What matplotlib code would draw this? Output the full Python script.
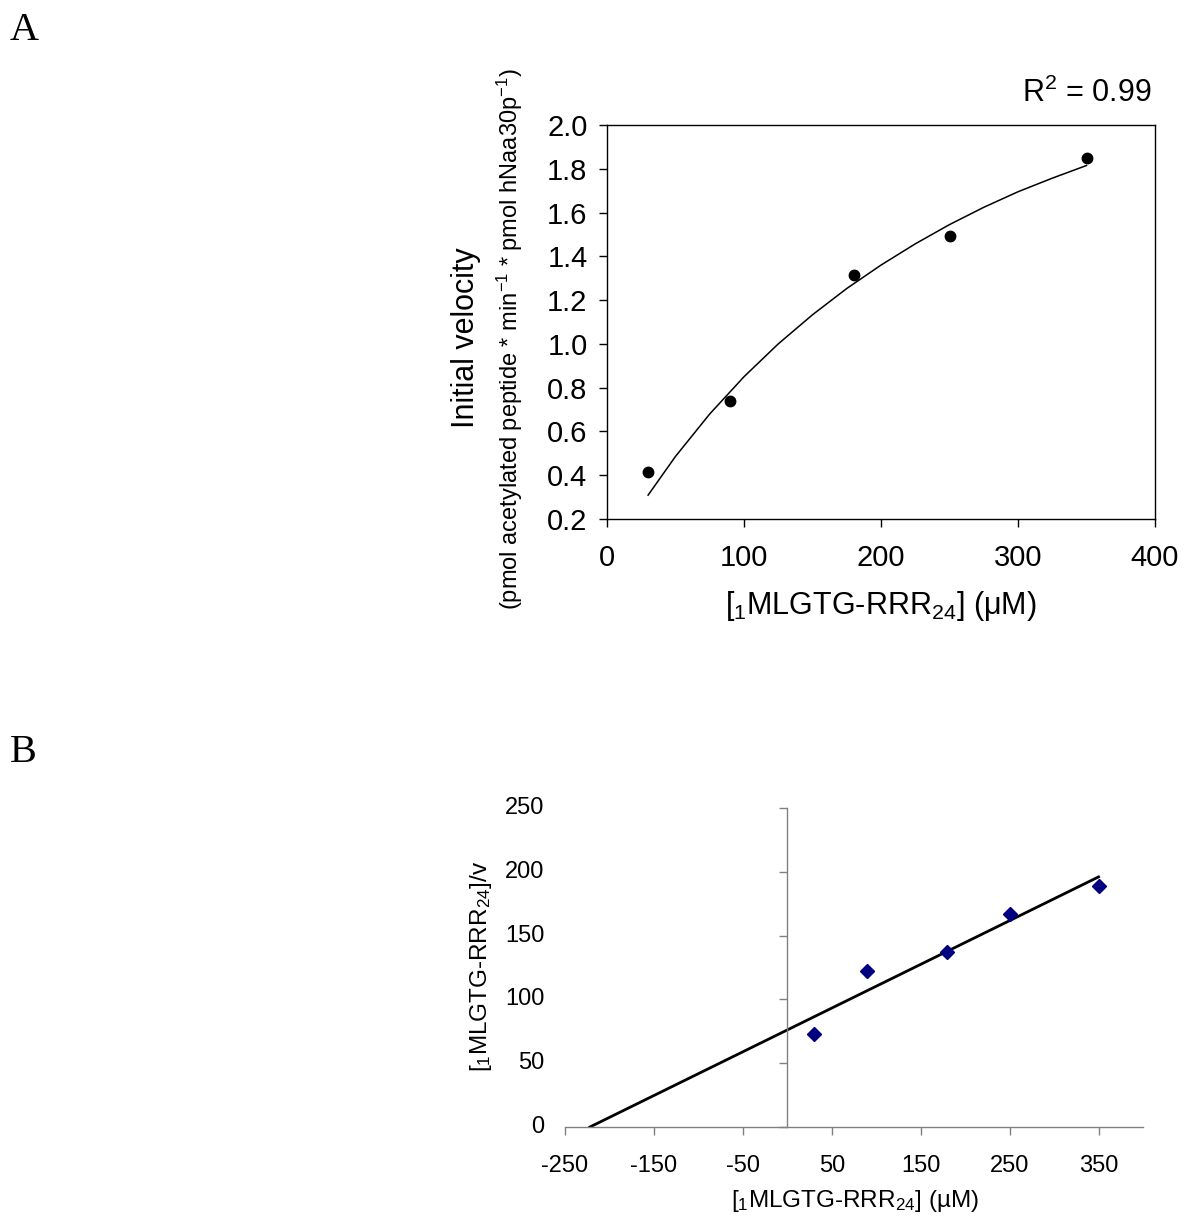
import matplotlib
matplotlib.use("Agg")
import matplotlib.pyplot as plt
import matplotlib.transforms as mtransforms

plt.rcParams['font.family'] = ['Liberation Sans', 'DejaVu Sans']
plt.rcParams['mathtext.fontset'] = 'custom'
plt.rcParams['mathtext.rm'] = 'Liberation Sans'
plt.rcParams['mathtext.it'] = 'Liberation Sans:italic'

# ---- Panel A data ----
conc_a = [30, 90, 180, 250, 350]
vel_a = [0.415, 0.74, 1.315, 1.495, 1.85]
fit_x = [30, 50, 75, 100, 125, 150, 175, 200, 225, 250, 275, 300, 325, 350]
fit_y = [0.309, 0.486, 0.680, 0.850, 1.000, 1.133, 1.253, 1.360, 1.457,
         1.545, 1.624, 1.695, 1.757, 1.815]
a_xticks = [0, 100, 200, 300, 400]
a_yticks = [0.2, 0.4, 0.6, 0.8, 1.0, 1.2, 1.4, 1.6, 1.8, 2.0]

# ---- Panel B data ----
conc_b = [30, 90, 180, 250, 350]
ratio_b = [73, 122, 137, 167, 189]
line_x = [-222, 350]
line_y = [0, 196]
b_xticks = [-250, -150, -50, 50, 150, 250, 350]
b_yticks = [0, 50, 100, 150, 200, 250]

W, H = 1200, 1223
fig = plt.figure(figsize=(W / 100, H / 100), dpi=100)

def fx(px):
    return px / W

def fy(py):
    return 1 - py / H

# ---------------- Panel A ----------------
axA = fig.add_axes([fx(607), fy(519), fx(1155) - fx(607), fy(125) - fy(519)])
axA.plot(fit_x, fit_y, color='black', lw=1.1)
axA.plot(conc_a, vel_a, 'o', color='black', ms=7.5)
axA.set_xlim(0, 400)
axA.set_ylim(0.2, 2.0)
axA.set_xticks(a_xticks)
axA.set_yticks(a_yticks)
axA.set_yticklabels([f"{v:.1f}" for v in a_yticks])
axA.tick_params(direction='out', length=6, width=1, labelsize=21, pad=8,
                top=False, right=False)
axA.tick_params(axis='x', pad=12)
for s in axA.spines.values():
    s.set_linewidth(1.0)
axA.set_xlabel(r"$\mathregular{[_{1}MLGTG\text{-}RRR_{24}]\ (\mu M)}$", fontsize=22, labelpad=12)

fig.text(fx(466), fy(338), "Initial velocity", rotation=90, fontsize=22,
         ha='center', va='center')
fig.text(fx(510), fy(339),
         r"(pmol acetylated peptide * min$^{\mathregular{-1}}$ * pmol hNaa30p$^{\mathregular{-1}}$)",
         rotation=90, fontsize=17, ha='center', va='center')
fig.text(fx(1152), fy(93), r"R$^{\mathregular{2}}$ = 0.99", fontsize=22,
         ha='right', va='center')

fig.text(fx(10), fy(30), "A", fontsize=29, family=['Liberation Serif', 'DejaVu Serif'],
         ha='left', va='center')
fig.text(fx(10), fy(753), "B", fontsize=29, family=['Liberation Serif', 'DejaVu Serif'],
         ha='left', va='center')

# ---------------- Panel B ----------------
axB = fig.add_axes([fx(565), fy(1127), fx(1143) - fx(565), fy(808) - fy(1127)])
axB.plot(line_x, line_y, color='black', lw=2.0)
axB.plot(conc_b, ratio_b, 'D', color='#000080', ms=7)
axB.set_xlim(-250, 400)
axB.set_ylim(0, 250)
axB.spines['top'].set_visible(False)
axB.spines['right'].set_visible(False)
axB.spines['left'].set_position(('data', 0))
axB.spines['left'].set_color('#808080')
axB.spines['bottom'].set_color('#808080')
axB.spines['left'].set_linewidth(1.0)
axB.spines['bottom'].set_linewidth(1.0)
axB.set_xticks(b_xticks)
axB.set_xticklabels([str(v) for v in b_xticks], fontsize=17)
axB.set_yticks(b_yticks)
axB.set_yticklabels([])
axB.tick_params(direction='out', length=6, width=1, color='#808080')
axB.tick_params(axis='x', pad=14)
trans = mtransforms.blended_transform_factory(axB.transAxes, axB.transData)
for v in b_yticks:
    axB.text(-0.036, v, str(v), transform=trans, ha='right', va='center',
             fontsize=17)

fig.text(fx(855), fy(1201), r"[$\mathregular{_1}$MLGTG-RRR$\mathregular{_{24}}$] (µM)",
         fontsize=17.5, ha='center', va='center')
fig.text(fx(481), fy(966), r"[$\mathregular{_1}$MLGTG-RRR$\mathregular{_{24}}$]/v",
         fontsize=17.5, ha='center', va='center', rotation=90)

fig.savefig("out.png", dpi=100)
